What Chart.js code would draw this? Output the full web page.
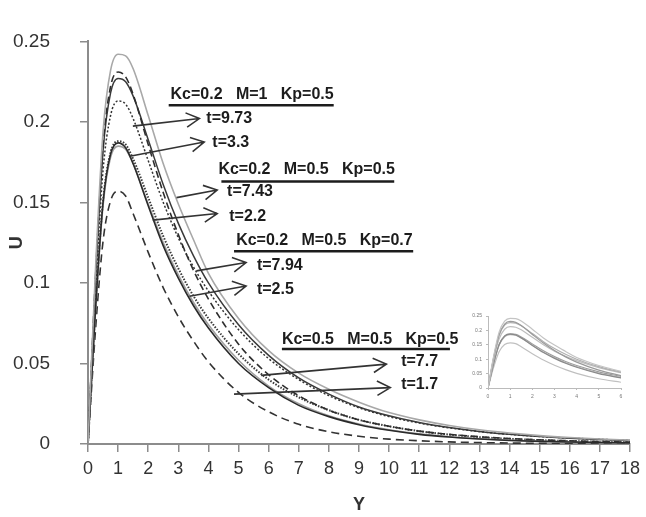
<!DOCTYPE html>
<html>
<head>
<meta charset="utf-8">
<script src="https://cdn.jsdelivr.net/npm/chart.js@4.4.0/dist/chart.umd.min.js"></script>
<style>
  body { margin: 0; background: #fff; }
  #wrap { position: relative; width: 646px; height: 517px; }
  #inset { position: absolute; left: 466px; top: 308px; filter: blur(0.7px); }
</style>
</head>
<body>
<div id="wrap">
  <canvas id="profileChart" width="646" height="517"></canvas>
  <canvas id="inset" width="162" height="100"></canvas>
</div>
<script>
// Y positions where the velocity profiles are sampled
const yCoords = [0, 0.25, 0.5, 0.75, 1, 1.25, 1.5, 2, 2.5, 3, 3.5, 4, 5, 6, 7, 8, 9, 10, 11, 12, 13, 14, 15, 16, 17, 18];

// Velocity U for each profile
const u1 = [0, .109, .194, .232, .242, .241, .233, .204, .174, .149, .127, .106, .078, .058, .044, .034, .026, .0195, .015, .0115, .0088, .0068, .0052, .004, .0031, .0024];
const u2 = [0, .104, .185, .222, .231, .228, .217, .186, .156, .130, .108, .090, .062, .043, .030, .021, .015, .011, .008, .006, .0045, .0034, .0026, .002, .0015, .0012];
const u3 = [0, .102, .182, .218, .227, .225, .216, .189, .161, .137, .117, .100, .074, .055, .041, .031, .023, .0175, .0133, .0102, .0078, .006, .0046, .0036, .0028, .0022];
const u4 = [0, .096, .170, .204, .213, .211, .202, .176, .150, .128, .110, .095, .071, .053, .040, .030, .0225, .017, .013, .010, .0077, .006, .0047, .0037, .0029, .0023];
const u5 = [0, .084, .150, .180, .187, .184, .174, .148, .123, .103, .086, .072, .050, .035, .024, .017, .012, .0085, .006, .0043, .0031, .0022, .0016, .0012, .0009, .0007];
const u6 = [0, .083, .148, .178, .185, .183, .174, .149, .125, .105, .088, .074, .052, .036, .025, .0175, .0124, .0088, .0063, .0045, .0033, .0024, .0018, .0013, .001, .0008];
const u7 = [0, .085, .151, .181, .188, .186, .177, .153, .129, .109, .092, .078, .056, .040, .029, .021, .015, .011, .008, .0058, .0043, .0032, .0024, .0018, .0014, .0011];
const u8 = [0, .071, .126, .151, .157, .154, .143, .119, .097, .079, .064, .051, .032, .020, .0122, .0076, .0048, .003, .002, .0013, .0009, .0006, .0004, .0003, .0002, .0001];

// Parameter captions and time labels
const headerLabels = ['Kc=0.2   M=1   Kp=0.5', 'Kc=0.2   M=0.5   Kp=0.5', 'Kc=0.2   M=0.5   Kp=0.7', 'Kc=0.5   M=0.5   Kp=0.5'];
const timeLabels = ['t=9.73', 't=3.3', 't=7.43', 't=2.2', 't=7.94', 't=2.5', 't=7.7', 't=1.7'];

const fontFamily = '"Liberation Sans", Arial, sans-serif';

// line look for each profile (same order as u1..u8)
const lineStyles = [
  { color: '#a8a8a8', dash: [], width: 1.6 },
  { color: '#2e2e2e', dash: [7, 4], width: 1.6 },
  { color: '#3a3a3a', dash: [], width: 1.5 },
  { color: '#333333', dash: [2, 2], width: 1.5 },
  { color: '#2a2a2a', dash: [], width: 1.6 },
  { color: '#a0a0a0', dash: [], width: 1.6 },
  { color: '#3a3a3a', dash: [1.5, 1.5], width: 2 },
  { color: '#333333', dash: [8, 5], width: 1.6 }
];

const seriesList = [u1, u2, u3, u4, u5, u6, u7, u8];

function toPoints(values, maxY) {
  return yCoords.map((v, i) => ({ x: v, y: values[i] })).filter(p => maxY === undefined || p.x <= maxY);
}

// caption positions in data units: text start, text row, underline span
const headerSpots = [
  { x: 2.74, y: 0.2167, x0: 2.68, x1: 8.16, yLine: 0.2103 },
  { x: 4.33, y: 0.1706, x0: 4.43, x1: 10.17, yLine: 0.1630 },
  { x: 4.92, y: 0.1262, x0: 4.85, x1: 10.8, yLine: 0.1197 },
  { x: 6.44, y: 0.0648, x0: 6.44, x1: 12.02, yLine: 0.0590 }
];

// arrow from a curve (fx, fy) to tip (tx, ty), text at (lx, ly)
const arrowSpots = [
  { fx: 1.49, fy: 0.1974, tx: 3.70, ty: 0.2021, lx: 3.93, ly: 0.2021 },
  { fx: 1.39, fy: 0.1787, tx: 3.86, ty: 0.1875, lx: 4.13, ly: 0.1869 },
  { fx: 2.94, fy: 0.1530, tx: 4.29, ty: 0.1577, lx: 4.62, ly: 0.1565 },
  { fx: 2.15, fy: 0.1390, tx: 4.29, ty: 0.1431, lx: 4.69, ly: 0.1414 },
  { fx: 3.60, fy: 0.1075, tx: 5.25, ty: 0.1127, lx: 5.61, ly: 0.1110 },
  { fx: 3.37, fy: 0.0917, tx: 5.25, ty: 0.0981, lx: 5.61, ly: 0.0958 },
  { fx: 5.75, fy: 0.0426, tx: 9.91, ty: 0.0496, lx: 10.4, ly: 0.0514 },
  { fx: 4.85, fy: 0.0310, tx: 10.04, ty: 0.0350, lx: 10.4, ly: 0.0368 }
];

// Draws the parameter captions, underlines and open arrows
const notesPlugin = {
  id: 'notes',
  afterDatasetsDraw(chart) {
    const { ctx } = chart;
    const xs = chart.scales.x, ys = chart.scales.y;
    ctx.save();
    ctx.fillStyle = '#1c1c1c';
    ctx.strokeStyle = '#1c1c1c';
    ctx.font = 'bold 16px ' + fontFamily;
    ctx.textBaseline = 'middle';
    ctx.textAlign = 'left';

    headerSpots.forEach((h, i) => {
      ctx.fillText(headerLabels[i], xs.getPixelForValue(h.x), ys.getPixelForValue(h.y));
      ctx.lineWidth = 2.5;
      ctx.beginPath();
      ctx.moveTo(xs.getPixelForValue(h.x0), ys.getPixelForValue(h.yLine));
      ctx.lineTo(xs.getPixelForValue(h.x1), ys.getPixelForValue(h.yLine));
      ctx.stroke();
    });

    arrowSpots.forEach((a, i) => {
      const x0 = xs.getPixelForValue(a.fx), y0 = ys.getPixelForValue(a.fy);
      const x1 = xs.getPixelForValue(a.tx), y1 = ys.getPixelForValue(a.ty);
      const ang = Math.atan2(y1 - y0, x1 - x0);
      ctx.strokeStyle = '#333';
      ctx.lineWidth = 1.6;
      ctx.beginPath();
      ctx.moveTo(x0, y0);
      ctx.lineTo(x1, y1);
      ctx.moveTo(x1 - 15 * Math.cos(ang - 0.5), y1 - 15 * Math.sin(ang - 0.5));
      ctx.lineTo(x1, y1);
      ctx.lineTo(x1 - 15 * Math.cos(ang + 0.5), y1 - 15 * Math.sin(ang + 0.5));
      ctx.stroke();
      ctx.fillText(timeLabels[i], xs.getPixelForValue(a.lx), ys.getPixelForValue(a.ly));
    });
    ctx.restore();
  }
};

const axisGray = '#8c8c8c';
// 0, 0.05, 0.1 ... without trailing zeros
const plainNumber = v => String(+v.toFixed(2));

new Chart(document.getElementById('profileChart'), {
  type: 'line',
  data: {
    datasets: seriesList.map((s, i) => ({
      data: toPoints(s),
      borderColor: lineStyles[i].color,
      borderDash: lineStyles[i].dash,
      borderWidth: lineStyles[i].width,
      pointRadius: 0,
      fill: false,
      cubicInterpolationMode: 'monotone'
    }))
  },
  options: {
    responsive: false,
    animation: false,
    devicePixelRatio: 1,
    layout: { padding: { top: 16, right: 13, left: 0, bottom: 0 } },
    plugins: { legend: { display: false }, tooltip: { enabled: false } },
    scales: {
      x: {
        type: 'linear', min: 0, max: 18,
        afterFit: s => { s.height = 73; },
        ticks: { stepSize: 1, autoSkip: false, maxRotation: 0, padding: 6, color: '#333', font: { family: fontFamily, size: 18 } },
        grid: { drawOnChartArea: false, tickLength: 8, color: axisGray, lineWidth: 1.5 },
        border: { color: axisGray, width: 2 },
        title: { display: true, text: 'Y', color: '#333', font: { family: fontFamily, size: 18, weight: 'bold' }, padding: { top: 0, bottom: 1 } }
      },
      y: {
        min: 0, max: 0.25,
        afterFit: s => { s.width = 88; },
        ticks: { stepSize: 0.05, padding: 30, color: '#333', font: { family: fontFamily, size: 19 }, callback: plainNumber },
        grid: { drawOnChartArea: false, tickLength: 8, color: axisGray, lineWidth: 1.5 },
        border: { color: axisGray, width: 2 },
        title: { display: true, text: 'U', color: '#333', font: { family: fontFamily, size: 18, weight: 'bold' }, padding: { top: 6, bottom: 0 } }
      }
    }
  },
  plugins: [notesPlugin]
});

// small copy of the profiles for 0 <= Y <= 6
const insetGrays = ['#c4c4c4', '#9a9a9a', '#b0b0b0', '#bdbdbd', '#8a8a8a', '#b8b8b8', '#9c9c9c', '#c0c0c0'];
new Chart(document.getElementById('inset'), {
  type: 'line',
  data: {
    datasets: seriesList.map((s, i) => ({
      data: toPoints(s, 6),
      borderColor: insetGrays[i],
      borderWidth: 1.2,
      pointRadius: 0,
      fill: false,
      cubicInterpolationMode: 'monotone'
    }))
  },
  options: {
    responsive: false,
    animation: false,
    devicePixelRatio: 1,
    layout: { padding: { top: 8, right: 7, left: 0, bottom: 0 } },
    plugins: { legend: { display: false }, tooltip: { enabled: false } },
    scales: {
      x: {
        type: 'linear', min: 0, max: 6,
        afterFit: s => { s.height = 20; },
        ticks: { stepSize: 1, padding: 4, color: '#777', font: { family: fontFamily, size: 5 } },
        grid: { drawOnChartArea: false, tickLength: 2, color: '#bbb' },
        border: { color: '#bbb', width: 1 }
      },
      y: {
        min: 0, max: 0.25,
        afterFit: s => { s.width = 22; },
        ticks: { stepSize: 0.05, padding: 4, color: '#777', font: { family: fontFamily, size: 5 }, callback: plainNumber },
        grid: { drawOnChartArea: false, tickLength: 2, color: '#bbb' },
        border: { color: '#bbb', width: 1 }
      }
    }
  }
});
</script>
</body>
</html>
